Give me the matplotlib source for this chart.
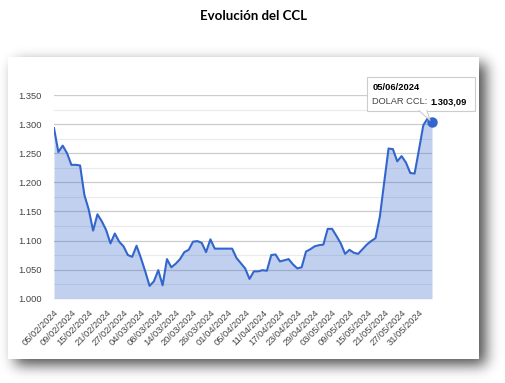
import numpy as np
import pandas as pd
import matplotlib
matplotlib.use('Agg')
import matplotlib.pyplot as plt
from matplotlib.patches import Rectangle, Polygon

# ---------------- data ----------------
dates = pd.bdate_range('2024-02-05', '2024-06-05')
date_labels = [d.strftime('%d/%m/%Y') for d in dates]

values = [1.293, 1.252, 1.263, 1.250, 1.230, 1.230, 1.229, 1.178, 1.153, 1.117,
          1.145, 1.133, 1.118, 1.095, 1.112, 1.098, 1.090, 1.075, 1.072, 1.091,
          1.070, 1.047, 1.022, 1.030, 1.049, 1.023, 1.068, 1.054, 1.060, 1.068,
          1.080, 1.084, 1.098, 1.099, 1.096, 1.080, 1.102, 1.086, 1.086, 1.086,
          1.086, 1.086, 1.070, 1.061, 1.052, 1.034, 1.047, 1.047, 1.049, 1.048,
          1.075, 1.076, 1.064, 1.066, 1.068, 1.059, 1.052, 1.054, 1.081, 1.085,
          1.090, 1.092, 1.093, 1.120, 1.120, 1.108, 1.095, 1.077, 1.084, 1.079,
          1.077, 1.085, 1.093, 1.099, 1.104, 1.141, 1.200, 1.258, 1.257, 1.236,
          1.245, 1.234, 1.216, 1.215, 1.256, 1.298, 1.310, 1.30309]

tick_labels = ['05/02/2024', '09/02/2024', '15/02/2024', '21/02/2024', '27/02/2024',
               '04/03/2024', '08/03/2024', '14/03/2024', '20/03/2024', '26/03/2024',
               '01/04/2024', '05/04/2024', '11/04/2024', '17/04/2024', '23/04/2024',
               '29/04/2024', '03/05/2024', '09/05/2024', '15/05/2024', '21/05/2024',
               '27/05/2024', '31/05/2024']

y_ticks = [1.000, 1.050, 1.100, 1.150, 1.200, 1.250, 1.300, 1.350]
y_tick_labels = ['1.000', '1.050', '1.100', '1.150', '1.200', '1.250', '1.300', '1.350']
y_minor = [1.025, 1.075, 1.125, 1.175, 1.225, 1.275, 1.325]

series_name = 'DOLAR CCL'
tooltip_date = '05/06/2024'
tooltip_value = '1.303,09'
title = 'Evolución del CCL'

# ---------------- figure ----------------
W, H = 505, 383
DPI = 100
fig = plt.figure(figsize=(W / DPI, H / DPI), dpi=DPI)
fig.patch.set_facecolor('white')

LINE = '#3366cc'
FONT = ['Liberation Sans', 'DejaVu Sans']

# background axes in pixel coords (shadow + panel)
bg = fig.add_axes([0, 0, 1, 1], zorder=0)
bg.set_xlim(0, W)
bg.set_ylim(H, 0)
bg.axis('off')

px0, py0, px1, py1 = 8, 57, 479, 359
mask = np.zeros((H, W))
dx, dy = 7, 6
mask[py0 + dy:py1 + dy, px0 + dx:px1 + dx] = 1.0
sig = 7.0
k = np.arange(-24, 25)
kern = np.exp(-k ** 2 / (2 * sig ** 2))
kern /= kern.sum()
blur = np.apply_along_axis(lambda r: np.convolve(r, kern, mode='same'), 1, mask)
blur = np.apply_along_axis(lambda c: np.convolve(c, kern, mode='same'), 0, blur)
rgba = np.zeros((H, W, 4))
rgba[..., 3] = blur * 0.7
bg.imshow(rgba, extent=(0, W, H, 0), aspect='auto', interpolation='bilinear', zorder=0)
bg.add_patch(Rectangle((px0, py0), px1 - px0, py1 - py0, facecolor='white',
                       edgecolor='none', zorder=1))

# main chart axes
x_left, x_right = 54, 432
y_bot, y_top = 298.7, 95
ax = fig.add_axes([x_left / W, (H - y_bot) / H, (x_right - x_left) / W, (y_bot - y_top) / H],
                  zorder=2)
ax.patch.set_visible(False)

x = np.arange(len(values))
ax.set_xlim(0, len(values) - 1)
ax.set_ylim(1.0, 1.35)

for yv in y_minor:
    ax.axhline(yv, color='#ebebeb', lw=0.8, zorder=0)
for yv in y_ticks:
    ax.axhline(yv, color='#cccccc', lw=0.9, zorder=0)

ax.fill_between(x, values, 1.0, color=LINE, alpha=0.3, lw=0, zorder=1)
ax.plot(x, values, color=LINE, lw=1.5, zorder=2, solid_joinstyle='round')
ax.plot([x[-1]], [values[-1]], 'o', color=LINE, ms=6.5, clip_on=False, zorder=3)

for s in ax.spines.values():
    s.set_visible(False)

tick_pos = [date_labels.index(t) for t in tick_labels]
ax.set_xticks(tick_pos)
ax.set_xticklabels(tick_labels, rotation=45, ha='right', va='top',
                   rotation_mode='anchor', fontsize=6.7, color='#444444', family=FONT)
ax.set_yticks(y_ticks)
ax.set_yticklabels(y_tick_labels, fontsize=6.7, color='#444444', family=FONT)
ax.tick_params(axis='both', length=0)
ax.tick_params(axis='x', pad=7)
ax.tick_params(axis='y', pad=9)

# overlay axes for tooltip
ov = fig.add_axes([0, 0, 1, 1], zorder=3)
ov.set_xlim(0, W)
ov.set_ylim(H, 0)
ov.axis('off')
ov.patch.set_visible(False)

px_pt, py_pt = ax.transData.transform((x[-1], values[-1]))
py_pt = H - py_pt

bx0, by0, bx1, by1 = 366.7, 77.3, 475, 110.7
ov.add_patch(Rectangle((bx0 + 1, by0 + 1.5), bx1 - bx0, by1 - by0, facecolor='#000000',
                       alpha=0.08, edgecolor='none', zorder=1))
ov.add_patch(Rectangle((bx0, by0), bx1 - bx0, by1 - by0, facecolor='white',
                       edgecolor='#cccccc', lw=0.8, zorder=2))
tri = Polygon([(419, by1 - 0.6), (427, by1 - 0.6), (px_pt - 2, py_pt - 2)], closed=True,
              facecolor='white', edgecolor='none', zorder=3)
ov.add_patch(tri)
ov.plot([419, px_pt - 2, 427], [by1, py_pt - 2, by1], color='#cccccc', lw=0.8, zorder=3)

ov.text(372.5, 90.5, tooltip_date, fontsize=6.7, fontweight='bold', color='#000000',
        va='baseline', ha='left', family=FONT, zorder=4)
t1 = ov.text(372.5, 104.0, series_name + ': ', fontsize=6.7, color='#444444',
             va='baseline', ha='left', family=FONT, zorder=4)
renderer = fig.canvas.get_renderer()
bb = t1.get_window_extent(renderer=renderer)
x_val = bb.x1  # display pixels, same as overlay x (0..W)
ov.text(x_val, 104.0, tooltip_value, fontsize=6.7, fontweight='bold',
        color='#000000', va='baseline', ha='left', family=FONT, zorder=4)

# title
fig.text(253 / W, 1 - 15.5 / H, title, ha='center', va='center', fontsize=9.5,
         fontweight='bold', family=['Lato', 'DejaVu Sans'], color='#000000')

fig.savefig('out.png', dpi=DPI, facecolor='white')
